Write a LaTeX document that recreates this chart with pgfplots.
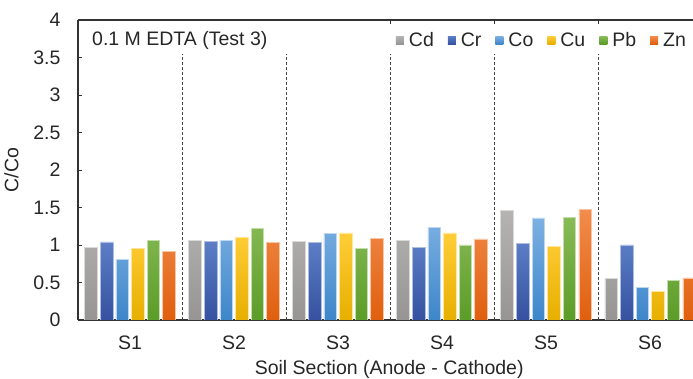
\documentclass[border=0pt]{standalone}
\usepackage{fontspec}
\setmainfont{Liberation Sans}
\usepackage{pgfplots}
\pgfplotsset{compat=1.18}

% bar colours: lighter top, darker bottom
\definecolor{cdT}{HTML}{B6B4B2}\definecolor{cdB}{HTML}{979593}
\definecolor{crT}{HTML}{5D7EC6}\definecolor{crB}{HTML}{3551A0}
\definecolor{coT}{HTML}{7DB0E2}\definecolor{coB}{HTML}{3D86CA}
\definecolor{cuT}{HTML}{FFCD38}\definecolor{cuB}{HTML}{E7AF00}
\definecolor{pbT}{HTML}{88BB57}\definecolor{pbB}{HTML}{5C9C28}
\definecolor{znT}{HTML}{F28C4C}\definecolor{znB}{HTML}{DF5F0E}
\definecolor{axcol}{HTML}{333333}
\definecolor{txt}{HTML}{262626}

\pgfplotstableread{
x   Cd   Cr   Co   Cu   Pb   Zn
1   0.97 1.04 0.81 0.955 1.06 0.91
2   1.06 1.05 1.06 1.10 1.22 1.03
3   1.05 1.03 1.15 1.16 0.95 1.09
4   1.06 0.97 1.23 1.16 1.00 1.08
5   1.46 1.02 1.36 0.98 1.37 1.47
6   0.55 1.00 0.43 0.38 0.53 0.56
}\datatable

\newcommand{\chartfont}{\fontsize{19.5}{22}\selectfont}

\begin{document}
\begin{tikzpicture}
\begin{axis}[
  scale only axis,
  width=615pt, height=300pt,
  xmin=0.5, xmax=6.413,
  ymin=0, ymax=4,
  clip mode=individual,
  axis x line*=bottom, axis y line*=left,
  axis line style={-, line width=1.6pt, draw=axcol},
  ytick={0,0.5,...,4},
  yticklabels={0,0.5,1,1.5,2,2.5,3,3.5,4},
  ytick pos=left,
  tick align=inside,
  major tick length=4pt,
  ytick style={line width=0.8pt, draw=axcol},
  xtick={1,2,3,4,5,6},
  xticklabels={S1,S2,S3,S4,S5,S6},
  xtick style={draw=none},
  every tick label/.append style={font=\chartfont, text=txt},
  yticklabel style={xshift=-14pt},
  xticklabel style={yshift=-12pt},
  /pgf/number format/assume math mode=true,
  xlabel={Soil Section (Anode - Cathode)},
  ylabel={C/Co},
  label style={font=\chartfont, text=txt},
  xlabel style={at={(rel axis cs:0.506,0)}, anchor=north, yshift=-37pt},
  ylabel style={at={(rel axis cs:0,0.5)}, anchor=south, yshift=56pt},
  bar width=0.12,
  legend columns=6,
  legend style={draw=none, fill=none, at={(rel axis cs:0.992,0.933)}, anchor=east,
    font=\chartfont, text=txt,
    /tikz/every odd column/.append style={column sep=3pt},
    /tikz/every even column/.append style={column sep=12pt},
    inner sep=0pt},
  legend image code/.code={\path[#1, draw=none] (0pt,-4pt) rectangle (8pt,4pt);},
]
\addplot[ybar, bar shift=-0.375, top color=cdT, bottom color=cdB, draw=cdT!50!white, line width=0.6pt] table[x=x, y=Cd] {\datatable};
\addplot[ybar, bar shift=-0.225, top color=crT, bottom color=crB, draw=crT!50!white, line width=0.6pt] table[x=x, y=Cr] {\datatable};
\addplot[ybar, bar shift=-0.075, top color=coT, bottom color=coB, draw=coT!50!white, line width=0.6pt] table[x=x, y=Co] {\datatable};
\addplot[ybar, bar shift=0.075, top color=cuT, bottom color=cuB, draw=cuT!50!white, line width=0.6pt] table[x=x, y=Cu] {\datatable};
\addplot[ybar, bar shift=0.225, top color=pbT, bottom color=pbB, draw=pbT!50!white, line width=0.6pt] table[x=x, y=Pb] {\datatable};
\addplot[ybar, bar shift=0.375, top color=znT, bottom color=znB, draw=znT!50!white, line width=0.6pt] table[x=x, y=Zn] {\datatable};
\legend{Cd,Cr,Co,Cu,Pb,Zn}

% dashed dividers between soil sections
\pgfplotsinvokeforeach{1.5,2.5,3.5,4.5,5.5}{
  \draw[axcol!90, line width=0.8pt, dash pattern=on 3pt off 2pt] (axis cs:#1,0) -- (axis cs:#1,3.55);
}
% top frame line with small ticks
\draw[axcol, line width=1.6pt] (rel axis cs:0,1) -- (rel axis cs:1,1);
\pgfplotsinvokeforeach{3.5,4.5,5.5}{
  \draw[axcol, line width=0.8pt] (axis cs:#1,4) -- ++(0pt,-4pt);
}
\node[anchor=west, inner sep=0pt, font=\chartfont, text=txt]
  at (rel axis cs:0.0228,0.933) {0.1 M EDTA (Test 3)};
\coordinate (BL) at (rel axis cs:0,0);
\end{axis}
\pgfresetboundingbox
\path[use as bounding box] (BL) ++(-78pt,-59pt) rectangle ++(693pt,379pt);
\end{tikzpicture}
\end{document}
